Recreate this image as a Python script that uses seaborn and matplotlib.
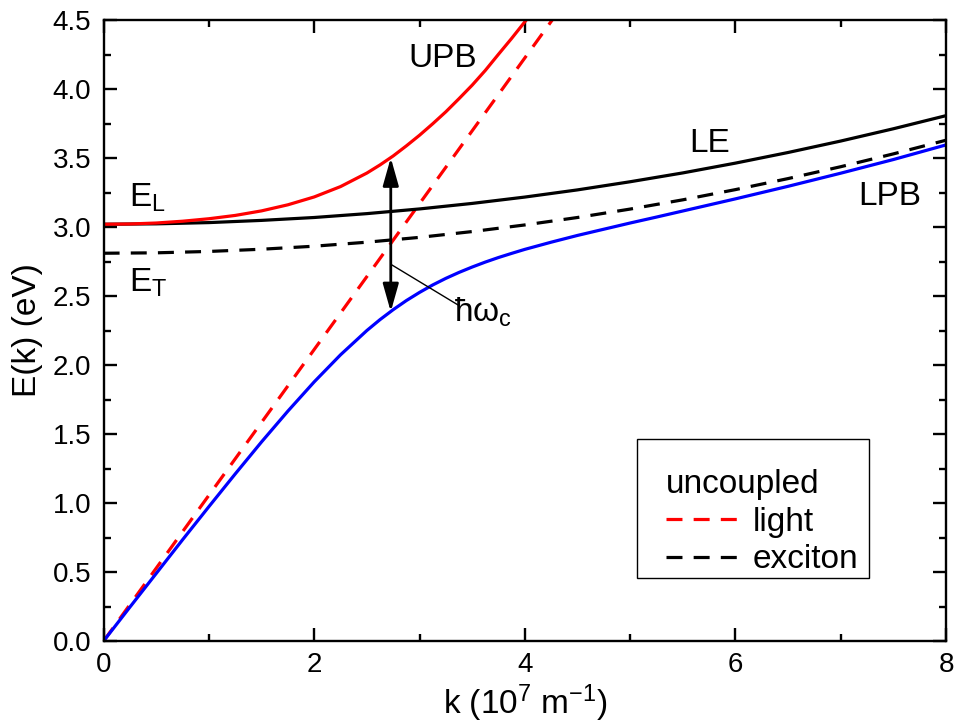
import matplotlib
matplotlib.use("Agg")
import matplotlib.pyplot as plt
import seaborn as sns
from matplotlib.lines import Line2D
from matplotlib.patches import Rectangle
from matplotlib.ticker import MultipleLocator, FormatStrFormatter

# ---- data ----
k_light = [0.0, 4.26]
E_light = [0.0, 4.50]

k_exc = [0, 0.5, 1, 1.5, 2, 2.5, 3, 3.5, 4, 4.5, 5, 5.5, 6, 6.5, 7, 7.5, 8]
E_exc = [2.810, 2.813, 2.823, 2.839, 2.861, 2.890, 2.925, 2.967, 3.015,
         3.069, 3.130, 3.197, 3.271, 3.351, 3.437, 3.530, 3.629]

k_le = [0, 0.5, 1, 1.5, 2, 2.5, 3, 3.5, 4, 4.5, 5, 5.5, 6, 6.5, 7, 7.5, 8]
E_le = [3.020, 3.023, 3.032, 3.048, 3.069, 3.097, 3.131, 3.171, 3.217,
        3.269, 3.328, 3.392, 3.463, 3.540, 3.623, 3.712, 3.807]

k_upb = [0, 0.25, 0.5, 0.75, 1, 1.25, 1.5, 1.75, 2, 2.25, 2.5, 2.625, 2.75,
         2.875, 3, 3.125, 3.25, 3.375, 3.5, 3.625, 3.75, 3.875, 4, 4.1]
E_upb = [3.020, 3.022, 3.029, 3.042, 3.060, 3.084, 3.117, 3.161, 3.218, 3.293,
         3.391, 3.450, 3.515, 3.588, 3.665, 3.748, 3.835, 3.930, 4.028, 4.135,
         4.252, 4.367, 4.487, 4.580]

k_lpb = [0, 0.25, 0.5, 0.75, 1, 1.25, 1.5, 1.75, 2, 2.25, 2.5, 2.625, 2.75,
         2.875, 3, 3.125, 3.25, 3.375, 3.5, 3.625, 3.75, 3.875, 4, 4.25, 4.5,
         4.75, 5, 5.25, 5.5, 6, 6.5, 7, 7.5, 8]
E_lpb = [0.0, 0.246, 0.490, 0.734, 0.974, 1.211, 1.443, 1.666, 1.878, 2.074,
         2.250, 2.329, 2.401, 2.467, 2.526, 2.580, 2.628, 2.671, 2.710, 2.746,
         2.779, 2.809, 2.838, 2.890, 2.939, 2.984, 3.029, 3.072, 3.116, 3.204,
         3.295, 3.390, 3.489, 3.595]

arrow_k = 2.727
arrow_lo, arrow_hi = 2.386, 3.502

# ---- style ----
sns.set_theme(style="ticks")
plt.rcParams["font.family"] = ["Liberation Sans", "DejaVu Sans"]
plt.rcParams["mathtext.fontset"] = "custom"
plt.rcParams["mathtext.rm"] = "Liberation Sans"
plt.rcParams["mathtext.it"] = "Liberation Sans"
plt.rcParams["mathtext.default"] = "regular"
for key in ["text.color", "axes.labelcolor", "xtick.color", "ytick.color",
            "axes.edgecolor"]:
    plt.rcParams[key] = "black"

fig = plt.figure(figsize=(9.55, 7.28), dpi=100)
ax = fig.add_axes([0.1085, 0.1195, 0.8821, 0.853])

lw = 2.3
dash = (0, (5, 3.5))
sns.lineplot(x=k_light, y=E_light, ax=ax, color="#ff0000", lw=lw, linestyle=dash)
sns.lineplot(x=k_exc, y=E_exc, ax=ax, color="black", lw=lw, linestyle=dash)
sns.lineplot(x=k_le, y=E_le, ax=ax, color="black", lw=lw)
sns.lineplot(x=k_upb, y=E_upb, ax=ax, color="#ff0000", lw=lw)
sns.lineplot(x=k_lpb, y=E_lpb, ax=ax, color="#0000ff", lw=lw)

ax.set_xlim(0, 8)
ax.set_ylim(0, 4.5)
ax.xaxis.set_major_locator(MultipleLocator(2))
ax.xaxis.set_minor_locator(MultipleLocator(1))
ax.yaxis.set_major_locator(MultipleLocator(0.5))
ax.yaxis.set_minor_locator(MultipleLocator(0.25))
ax.yaxis.set_major_formatter(FormatStrFormatter("%.1f"))

for s in ax.spines.values():
    s.set_linewidth(1.7)
    s.set_color("black")
ax.tick_params(which="both", direction="in", top=True, right=True,
               color="black", width=1.7)
ax.tick_params(which="major", length=9.5)
ax.tick_params(which="minor", length=5)
ax.tick_params(axis="y", which="major", labelsize=20, pad=9)
ax.tick_params(axis="x", which="major", labelsize=20, pad=8)

ax.set_xlabel(r"k (10$^{7}$ m$^{-1}$)", fontsize=24, labelpad=3)
ax.set_ylabel("E(k) (eV)", fontsize=24, labelpad=7)

# arrow and annotation
ax.annotate("", xy=(arrow_k, arrow_hi), xytext=(arrow_k, arrow_lo),
            arrowprops=dict(arrowstyle="<|-|>,head_length=0.85,head_width=0.24",
                            lw=2.0, color="black", shrinkA=0, shrinkB=0,
                            mutation_scale=20))
ax.plot([arrow_k, 3.366], [2.73, 2.435], color="black", lw=1.0)

fs = 24
ax.text(2.89, 4.16, "UPB", fontsize=fs)
ax.text(5.56, 3.543, "LE", fontsize=fs)
ax.text(7.17, 3.159, "LPB", fontsize=fs)
ax.text(0.24, 3.145, r"E$_L$", fontsize=fs)
ax.text(0.24, 2.529, r"E$_T$", fontsize=fs)
ax.text(3.33, 2.312, r"ħω$_c$", fontsize=fs)

# legend: frameless content plus a separate box
handles = [Line2D([], [], color="#ff0000", lw=lw, linestyle=dash),
           Line2D([], [], color="black", lw=lw, linestyle=dash)]
leg = ax.legend(handles, ["light", "exciton"], title="uncoupled",
                loc="upper left", bbox_to_anchor=(0.668, 0.277),
                borderaxespad=0, fontsize=fs, title_fontsize=fs,
                frameon=False, handlelength=2.3, handletextpad=0.3,
                labelspacing=0.2, borderpad=0.0, alignment="left")
ax.add_patch(Rectangle((0.633, 0.1014), 0.2754, 0.2238, transform=ax.transAxes,
                       fill=False, edgecolor="black", lw=1.0, zorder=6))

fig.savefig("out.png", dpi=100)
